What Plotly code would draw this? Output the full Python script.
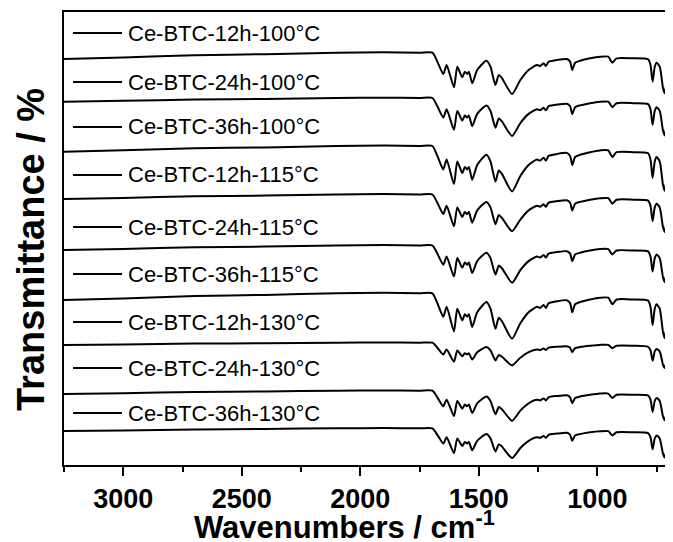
import plotly.graph_objects as go

# Wavenumbers (cm-1), shared by all spectra
wavenumber = [3250, 3000, 2700, 2400, 2100, 1900, 1750, 1696,
              1675, 1650, 1636, 1605, 1591, 1570, 1559, 1549, 1542, 1528,
              1507, 1468, 1451, 1430, 1416, 1402, 1360, 1325, 1290, 1255,
              1241, 1227, 1217, 1206, 1171, 1129, 1115, 1106, 1094, 1073,
              1031, 989, 954, 937, 919, 849, 786, 776, 767, 758,
              750, 737, 723, 716, 708, 702, 692, 682]

labels = ["Ce-BTC-12h-100°C", "Ce-BTC-24h-100°C", "Ce-BTC-36h-100°C",
          "Ce-BTC-12h-115°C", "Ce-BTC-24h-115°C", "Ce-BTC-36h-115°C",
          "Ce-BTC-12h-130°C", "Ce-BTC-24h-130°C", "Ce-BTC-36h-130°C"]

# Relative transmittance (arbitrary units) of each sample
t_12h_100 = [93.7, 95.2, 97.5, 98.5, 100, 100.5, 100, 100,
             91.0, 78.7, 87.7, 65.4, 86.0, 75.4, 81.0, 78.7, 81.0, 69.4, 82.7, 92.0, 86.0, 67.7, 77.7, 74.4,
             58.7, 72.7, 82.7, 87.7, 86.7, 89.4, 86.7, 91.0, 92.7, 93.7, 91.0, 82.7, 90.0, 92.0, 94.4, 96.0,
             96.0, 90.0, 94.4, 94.4, 93.4, 87.7, 71.0, 86.0, 90.0, 86.0, 64.4, 59.4, 69.4, 56.0, 82.7, 86.0]
t_24h_100 = [96.3, 97.2, 98.5, 99.1, 100, 100.3, 100, 100,
             91.7, 80.4, 88.7, 68.2, 87.1, 77.4, 82.5, 80.4, 82.5, 71.8, 84.1, 92.6, 87.1, 70.3, 79.5, 76.4,
             62.0, 74.9, 84.1, 88.7, 87.8, 90.2, 87.8, 91.7, 93.3, 94.2, 91.7, 84.1, 90.8, 92.6, 94.8, 96.3,
             96.3, 90.8, 94.8, 94.8, 93.9, 88.7, 73.3, 87.1, 90.8, 87.1, 67.2, 62.6, 71.8, 59.5, 84.1, 87.1]
t_36h_100 = [94.3, 95.7, 97.7, 98.6, 100, 100.5, 100, 100,
             90.1, 76.6, 86.5, 61.9, 84.6, 72.9, 79.1, 76.6, 79.1, 66.3, 81.0, 91.2, 84.6, 64.5, 75.5, 71.8,
             54.6, 70.0, 81.0, 86.5, 85.4, 88.3, 85.4, 90.1, 92.0, 93.1, 90.1, 81.0, 89.0, 91.2, 93.8, 95.6,
             95.6, 89.0, 93.8, 93.8, 92.7, 86.5, 68.1, 84.6, 89.0, 84.6, 60.8, 55.3, 66.3, 51.6, 81.0, 84.6]
t_12h_115 = [95.5, 96.6, 98.2, 98.9, 100, 100.4, 100, 100,
             91.7, 80.4, 88.7, 68.2, 87.1, 77.4, 82.5, 80.4, 82.5, 71.8, 84.1, 92.6, 87.1, 70.3, 79.5, 76.4,
             63.3, 74.9, 84.1, 88.7, 87.8, 90.2, 87.8, 91.7, 93.3, 94.2, 91.7, 84.1, 90.8, 92.6, 94.8, 96.3,
             96.3, 90.8, 94.8, 94.8, 93.9, 88.7, 73.3, 87.1, 90.8, 87.1, 67.2, 62.6, 71.8, 60.0, 84.1, 87.1]
t_24h_115 = [95.5, 96.6, 98.2, 98.9, 100, 100.4, 100, 100,
             91.9, 80.8, 88.9, 68.9, 87.4, 77.9, 82.9, 80.8, 82.9, 72.5, 84.4, 92.8, 87.4, 70.9, 79.9, 77.0,
             62.8, 75.4, 84.4, 88.9, 88.0, 90.5, 88.0, 91.9, 93.4, 94.3, 91.9, 84.4, 91.0, 92.8, 95.0, 96.4,
             96.4, 91.0, 95.0, 95.0, 94.1, 88.9, 73.9, 87.4, 91.0, 87.4, 68.0, 63.5, 72.5, 60.4, 84.4, 87.4]
t_36h_115 = [93.3, 94.9, 97.3, 98.4, 100, 100.5, 100, 100,
             90.1, 76.6, 86.5, 61.9, 84.6, 72.9, 79.1, 76.6, 79.1, 66.3, 81.0, 91.2, 84.6, 64.5, 75.5, 71.8,
             54.6, 70.0, 81.0, 86.5, 85.4, 88.3, 85.4, 90.1, 92.0, 93.1, 90.1, 81.0, 89.0, 91.2, 93.8, 95.6,
             95.6, 89.0, 93.8, 93.8, 92.7, 86.5, 68.1, 84.6, 89.0, 84.6, 60.8, 55.3, 66.3, 51.6, 81.0, 84.6]
t_12h_130 = [97.7, 98.3, 99.1, 99.4, 100, 100.2, 100, 100,
             95.0, 88.3, 93.2, 81.0, 92.3, 86.5, 89.5, 88.3, 89.5, 83.2, 90.5, 95.6, 92.3, 82.2, 87.7, 85.9,
             77.3, 85.0, 90.5, 93.2, 92.7, 94.2, 92.7, 95.0, 96.0, 96.5, 95.0, 90.5, 94.5, 95.6, 96.9, 97.8,
             97.8, 94.5, 96.9, 96.9, 95.9, 92.4, 82.0, 91.3, 93.8, 91.3, 77.9, 74.8, 81.0, 72.7, 89.3, 91.3]
t_24h_130 = [96.7, 97.5, 98.7, 99.2, 100, 100.3, 100, 100,
             93.4, 84.5, 91.0, 74.7, 89.8, 82.0, 86.1, 84.5, 86.1, 77.7, 87.4, 94.2, 89.8, 76.4, 83.7, 81.3,
             69.9, 80.1, 87.4, 91.0, 90.3, 92.3, 90.3, 93.4, 94.7, 95.4, 93.4, 87.4, 92.7, 94.2, 95.9, 97.1,
             97.1, 92.7, 95.9, 95.9, 95.2, 91.0, 78.8, 89.8, 92.7, 89.8, 74.0, 70.4, 77.7, 67.9, 87.4, 89.8]
t_36h_130 = [97.3, 97.9, 98.9, 99.4, 100, 100.2, 100, 100,
             93.5, 84.7, 91.1, 75.1, 89.9, 82.3, 86.3, 84.7, 86.3, 78.0, 87.5, 94.2, 89.9, 76.7, 83.9, 81.6,
             70.3, 80.3, 87.5, 91.1, 90.4, 92.4, 90.4, 93.5, 94.7, 95.5, 93.5, 87.5, 92.8, 94.2, 96.0, 97.1,
             97.1, 92.8, 96.0, 96.0, 95.2, 91.1, 79.1, 89.9, 92.8, 89.9, 74.4, 70.8, 78.0, 68.3, 87.5, 89.9]

spectra = [t_12h_100, t_24h_100, t_36h_100, t_12h_115, t_24h_115,
           t_36h_115, t_12h_130, t_24h_130, t_36h_130]

# vertical stacking offsets (layout)
offsets = [382.3, 337.0, 289.0, 240.5, 189.5, 141.7, 92.3, 44.3, 6.7]

PAGE = 8  # default page margin of the html body
W, H = 673 - PAGE, 542 - PAGE
L, R, T, B = 64 - PAGE, 0, 12 - PAGE, 77
pw, ph = W - L - R, H - T - B

def px(xp):
    return (xp - PAGE - L) / pw

def py(yp):
    return (H - B - (yp - PAGE)) / ph

FONT = "Liberation Sans, Arial"

fig = go.Figure()
for name, ys, off in zip(labels, spectra, offsets):
    fig.add_trace(go.Scatter(
        x=wavenumber, y=[v + off for v in ys], mode="lines", name=name,
        line=dict(color="black", width=2.0, shape="spline", smoothing=0.6),
        showlegend=False, hoverinfo="skip"))

label_y = [33, 82, 127, 175, 227, 274, 322, 368, 413]
annotations = []
shapes = []
for name, yy in zip(labels, label_y):
    shapes.append(dict(type="line", xref="paper", yref="paper",
                       x0=px(73), x1=px(122), y0=py(yy), y1=py(yy),
                       line=dict(color="black", width=1.8)))
    annotations.append(dict(text=name, xref="paper", yref="paper",
                            x=px(126), y=py(yy), xanchor="left", yanchor="middle",
                            showarrow=False,
                            font=dict(family=FONT, size=22, color="black")))

annotations.append(dict(text="Wavenumbers / cm<sup>-1</sup>", xref="paper", yref="paper",
                        x=px(344), y=py(525), xanchor="center", yanchor="middle",
                        showarrow=False,
                        font=dict(family=FONT, size=31, color="black", weight="bold")))
annotations.append(dict(text="Transmittance / %", xref="paper", yref="paper",
                        x=px(31), y=py(250), xanchor="center", yanchor="middle",
                        textangle=-90, showarrow=False,
                        font=dict(family=FONT, size=38, color="black", weight="bold")))

fig.update_layout(
    width=W, height=H,
    margin=dict(l=L, r=R, t=T, b=B),
    paper_bgcolor="white", plot_bgcolor="white",
    annotations=annotations, shapes=shapes,
    xaxis=dict(range=[3250, 681], tick0=1000, dtick=500,
               ticks="outside", ticklen=9, tickwidth=1.8, tickcolor="black",
               showline=True, linewidth=1.8, linecolor="black", mirror=True,
               showgrid=False, zeroline=False,
               tickfont=dict(family=FONT, size=27, color="black", weight="bold"),
               minor=dict(dtick=250, ticks="outside", ticklen=5, tickwidth=1.8,
                          tickcolor="black", showgrid=False)),
    yaxis=dict(range=[70, 523], showticklabels=False, ticks="",
               showline=True, linewidth=1.8, linecolor="black",
               showgrid=False, zeroline=False),
)

fig.write_html("out.html")
